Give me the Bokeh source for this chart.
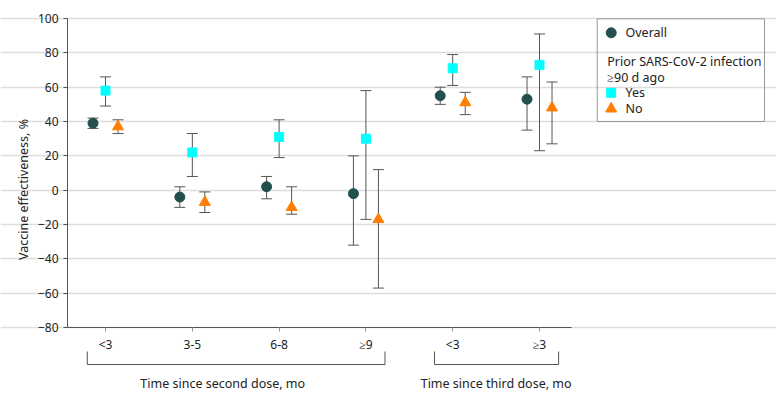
import math
from bokeh.plotting import figure
from bokeh.models import Range1d, FixedTicker
from bokeh.embed import file_html
from bokeh.resources import INLINE
from bokeh.core.properties import value

# ---------------- data ----------------
categories = ["<3", "3-5", "6-8", "≥9", "<3", "≥3"]

overall = [39, -4, 2, -2, 55, 53]
overall_lo = [36, -10, -5, -32, 50, 35]
overall_hi = [42, 2, 8, 20, 60, 66]

yes = [58, 22, 31, 30, 71, 73]
yes_lo = [49, 8, 19, -17, 61, 23]
yes_hi = [66, 33, 41, 58, 79, 91]

no = [37, -7, -10, -17, 51, 48]
no_lo = [33, -13, -14, -57, 44, 27]
no_hi = [41, -1, 2, 12, 57, 63]

group_labels = ["Time since second dose, mo", "Time since third dose, mo"]
group_members = [[0, 1, 2, 3], [4, 5]]

y_ticks = [-80, -60, -40, -20, 0, 20, 40, 60, 80, 100]
y_label = "Vaccine effectiveness, %"

legend_subtitle = ["Prior SARS-CoV-2 infection", "≥90 d ago"]
legend_labels = ["Overall", "Yes", "No"]

# ---------------- style ----------------
FONT = "Noto Sans"
TEXT = "#222222"
C_OVERALL = "#234f4f"
C_YES = "#00ffff"
C_NO = "#ff7f00"
BAR = "#555555"
AXIS = "#555555"

pos = [i + 1 for i in range(len(categories))]
OFF = 0.144

# pixel geometry (page coordinates; the Bokeh page has no body margin)
W, H = 776, 396
FL, FT = 67, 18          # plotting-area left / top in px
X0, PXU = 0.562, 86.8    # x value at x=FL, px per x unit
Y1, PYU = 100.0, 1.717   # y value at y=FT, px per y unit
x_start = X0 - FL / PXU
x_end = X0 + (W - FL) / PXU
y_start = Y1 - (H - FT) / PYU
y_end = Y1 + FT / PYU

def lx(px):
    return X0 + (px - FL) / PXU

def ly(py):
    return Y1 - (py - FT) / PYU

p = figure(width=W, height=H,
           x_range=Range1d(x_start, x_end), y_range=Range1d(y_start, y_end),
           output_backend="svg", toolbar_location=None,
           min_border_left=0, min_border_right=0,
           min_border_top=0, min_border_bottom=0)
p.outline_line_color = None
p.background_fill_color = "white"
p.border_fill_color = "white"

x_bounds = (X0, lx(571))

p.xgrid.visible = False
p.ygrid.ticker = FixedTicker(ticks=y_ticks)
p.ygrid.bounds = x_bounds
p.ygrid.grid_line_color = "#dddddd"
p.ygrid.grid_line_width = 1.5

yax = p.yaxis[0]
yax.ticker = FixedTicker(ticks=y_ticks)
yax.bounds = (-80, 100)
yax.fixed_location = X0
yax.major_label_text_font = FONT
yax.major_label_text_font_size = "12px"
yax.major_label_text_color = TEXT
yax.major_tick_out = 4
yax.major_tick_in = 0
yax.minor_tick_out = 0
yax.minor_tick_in = 0
yax.axis_line_color = AXIS
yax.major_tick_line_color = AXIS

xax = p.xaxis[0]
xax.ticker = FixedTicker(ticks=pos)
xax.major_label_overrides = {x: c for x, c in zip(pos, categories)}
xax.fixed_location = -80
xax.bounds = x_bounds
xax.major_label_text_font = FONT
xax.major_label_text_font_size = "12px"
xax.major_label_text_color = TEXT
xax.major_label_standoff = 4
xax.major_tick_out = 4
xax.major_tick_in = 0
xax.minor_tick_out = 0
xax.minor_tick_in = 0
xax.axis_line_color = AXIS
xax.major_tick_line_color = "#999999"

# y axis title
p.text(x=[lx(23)], y=[ly(189)], text=[y_label], angle=math.pi / 2,
       text_align="center", text_baseline="middle",
       text_font=value(FONT), text_font_size="12.5px", text_color=TEXT)

series = [
    (overall, overall_lo, overall_hi, -OFF, "circle", C_OVERALL, 10),
    (yes, yes_lo, yes_hi, 0.0, "square", C_YES, 9),
    (no, no_lo, no_hi, OFF, "triangle", C_NO, 11),
]

for vals, lo, hi, off, marker, color, size in series:
    xs = [x + off for x in pos]
    p.segment(x0=xs, y0=lo, x1=xs, y1=hi, line_color=BAR, line_width=1)
    p.scatter(x=xs + xs, y=lo + hi, marker="dash", size=11,
              line_color=BAR, line_width=1)

for vals, lo, hi, off, marker, color, size in series:
    xs = [x + off for x in pos]
    p.scatter(x=xs, y=vals, marker=marker, size=size,
              fill_color=color, line_color=color)

# brackets under category groups
BR_TOP, BR_BOT, LAB_Y = ly(351), ly(364), ly(383)
bxs, bys = [], []
for members in group_members:
    xl = pos[members[0]] - 0.21
    xr = pos[members[-1]] + 0.22
    bxs.append([xl, xl, xr, xr])
    bys.append([BR_TOP, BR_BOT, BR_BOT, BR_TOP])
p.multi_line(xs=bxs, ys=bys, line_color=AXIS, line_width=1)

label_shift = [-0.15, 0.0]
lab_x = [(pos[m[0]] + pos[m[-1]]) / 2 + s for m, s in zip(group_members, label_shift)]
p.text(x=lab_x, y=[LAB_Y] * len(lab_x), text=group_labels,
       text_align="center", text_baseline="middle",
       text_font=value(FONT), text_font_size="12.5px", text_color=TEXT)

# ---------------- legend (drawn in the right part of the canvas) ----------------
p.quad(left=[lx(596.7)], right=[lx(764)], top=[ly(18.3)], bottom=[ly(121)],
       fill_color=None, line_color="#999999", line_width=1)

mx, tx, sx = lx(610.7), lx(625), lx(606.7)
p.scatter(x=[mx], y=[ly(32.3)], marker="circle", size=10, fill_color=C_OVERALL, line_color=C_OVERALL)
p.scatter(x=[mx], y=[ly(92.3)], marker="square", size=9, fill_color=C_YES, line_color=C_YES)
p.scatter(x=[mx], y=[ly(108.3)], marker="triangle", size=11, fill_color=C_NO, line_color=C_NO)
p.text(x=[tx] * 3, y=[ly(32.3), ly(92.3), ly(108.3)], text=legend_labels,
       text_align="left", text_baseline="middle",
       text_font=value(FONT), text_font_size="12.5px", text_color=TEXT)
p.text(x=[sx] * 2, y=[ly(61), ly(76.7)], text=legend_subtitle,
       text_align="left", text_baseline="middle",
       text_font=value(FONT), text_font_size="12.5px", text_color=TEXT)

open("out.html", "w").write(file_html(p, INLINE))
